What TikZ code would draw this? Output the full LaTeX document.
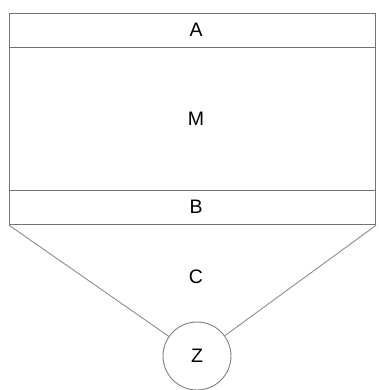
\documentclass[tikz,border=0pt]{standalone}
\usepackage{fontspec}
\setmainfont{Liberation Sans}
\begin{document}
\begin{tikzpicture}[x=1pt,y=-1pt,
  lbl/.style={font=\fontsize{19.5}{21}\selectfont, text=black},
  band/.style={draw=black!55, line width=1.2pt, inner sep=0pt, minimum width=366pt, anchor=north west},
  edge/.style={draw=black!45, line width=0.9pt}]
\useasboundingbox (0,0) rectangle (379,390);
\node[band, minimum height=34pt] (A) at (9,13) {};
\node[band, minimum height=143pt] (M) at (9,47) {};
\node[band, minimum height=34pt] (B) at (9,190) {};
\node[lbl] (a) at (196,30) {A};
\node[lbl] (m) at (196,118.5) {M};
\node[lbl] (b) at (196,207) {B};
\node[lbl] (C) at (196,277) {C};
\node[circle, draw=black!50, line width=0.9pt, minimum size=68pt, inner sep=0pt, lbl] (Z) at (197,356) {Z};
\draw[edge] (B.south west) -- (Z);
\draw[edge] (B.south east) -- (Z);
\end{tikzpicture}
\end{document}
